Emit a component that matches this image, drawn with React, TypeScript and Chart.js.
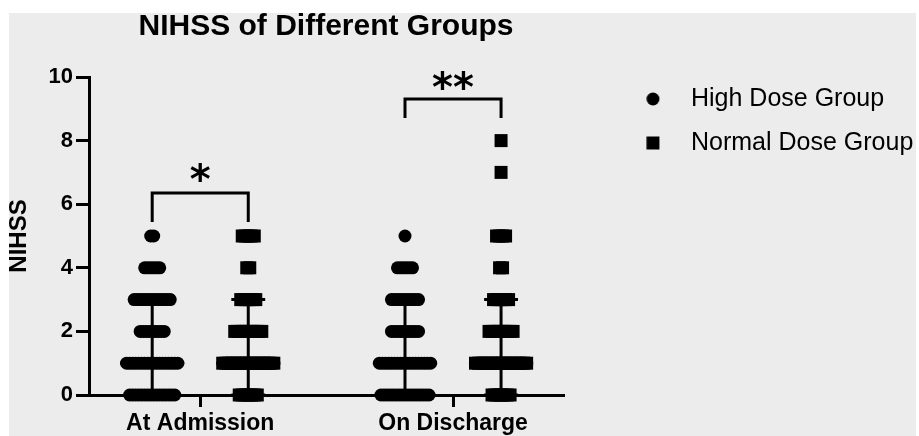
import React, { useEffect, useRef } from 'react';
import { Chart, registerables } from 'chart.js';

Chart.register(...registerables);

// ---------- data ----------
const categories = ['At Admission', 'On Discharge'];
const seriesNames = ['High Dose Group', 'Normal Dose Group'];
const scoreLevels = [0, 1, 2, 3, 4, 5, 6, 7, 8];
// number of patients at each NIHSS score (index = score level)
const highDoseAdmission = [16, 18, 9, 13, 6, 2, 0, 0, 0];
const highDoseDischarge = [17, 18, 10, 10, 6, 1, 0, 0, 0];
const normalDoseAdmission = [7, 18, 10, 6, 2, 5, 0, 0, 0];
const normalDoseDischarge = [7, 18, 9, 6, 2, 4, 0, 1, 1];
// median with interquartile range, per category
const highQ1 = [0, 0];
const highMedian = [1, 1];
const highQ3 = [3, 3];
const normalQ1 = [0, 0];
const normalMedian = [1, 1];
const normalQ3 = [3, 3];
// y axis
const yMin = 0;
const yMax = 10;
const yStep = 2;
// significance annotations, per category
const sigLabels = ['*', '**'];
const bracketTop = [6.35, 9.31];
const bracketFoot = [5.44, 8.71];
const sigLabelY = [7.0, 9.9];

// ---------- layout constants ----------
const FONT = "'Liberation Sans', Arial, Helvetica, sans-serif";
const GROUP_OFFSET = 0.19;
const POINT_STEP = 0.0119;
const CAP_HALF = 0.067;
const MEDIAN_HALF = 0.127;
const X_MIN = 0.56;
const X_MAX = 2.435;

Chart.defaults.font.family = FONT;
Chart.defaults.color = '#000';

function groupCenter(catIndex: number, groupIndex: number) {
  return catIndex + 1 + (groupIndex === 0 ? -GROUP_OFFSET : GROUP_OFFSET);
}

function rowPoints(counts: number[], catIndex: number, groupIndex: number) {
  const cx = groupCenter(catIndex, groupIndex);
  const pts: { x: number; y: number }[] = [];
  counts.forEach((n, level) => {
    for (let i = 0; i < n; i++) {
      pts.push({ x: cx + (i - (n - 1) / 2) * POINT_STEP, y: scoreLevels[level] });
    }
  });
  return pts;
}

function iqrSegments(cx: number, q1: number, med: number, q3: number) {
  return [
    { x: cx, y: q1 }, { x: cx, y: q3 }, { x: cx, y: null },
    { x: cx - CAP_HALF, y: q3 }, { x: cx + CAP_HALF, y: q3 }, { x: cx, y: null },
    { x: cx - CAP_HALF, y: q1 }, { x: cx + CAP_HALF, y: q1 }, { x: cx, y: null },
    { x: cx - MEDIAN_HALF, y: med }, { x: cx + MEDIAN_HALF, y: med },
  ];
}

function bracket(catIndex: number) {
  const l = groupCenter(catIndex, 0);
  const r = groupCenter(catIndex, 1);
  return [
    { x: l, y: bracketFoot[catIndex] },
    { x: l, y: bracketTop[catIndex] },
    { x: r, y: bracketTop[catIndex] },
    { x: r, y: bracketFoot[catIndex] },
  ];
}

function legendMarker(kind: 'circle' | 'rect') {
  const c = document.createElement('canvas');
  c.width = 60;
  c.height = 20;
  const g = c.getContext('2d')!;
  g.fillStyle = '#000';
  const mx = 30 + 22.75;
  const my = 10;
  if (kind === 'circle') {
    g.beginPath();
    g.arc(mx, my, 6.5, 0, Math.PI * 2);
    g.fill();
  } else {
    g.fillRect(mx - 6.5, my - 6.5, 13, 13);
  }
  return c;
}

const backgroundPlugin = {
  id: 'bg',
  beforeDraw(chart: any) {
    const ctx = chart.ctx;
    ctx.save();
    ctx.fillStyle = '#ffffff';
    ctx.fillRect(0, 0, chart.width, chart.height);
    ctx.fillStyle = '#ececec';
    ctx.fillRect(9, 13, 907, chart.height - 13);
    ctx.restore();
  },
};

const sigPlugin = {
  id: 'sig',
  afterDatasetsDraw(chart: any) {
    const ctx = chart.ctx;
    const xs = chart.scales.x;
    const ys = chart.scales.y;
    ctx.save();
    ctx.fillStyle = '#000';
    ctx.font = "bold 40px 'DejaVu Sans', sans-serif";
    ctx.textAlign = 'left';
    ctx.textBaseline = 'alphabetic';
    sigLabels.forEach((label, i) => {
      const cx = xs.getPixelForValue((groupCenter(i, 0) + groupCenter(i, 1)) / 2);
      const cy = ys.getPixelForValue(sigLabelY[i]);
      const m = ctx.measureText(label);
      const x = cx - (m.actualBoundingBoxRight - m.actualBoundingBoxLeft) / 2;
      const y = cy - (m.actualBoundingBoxDescent - m.actualBoundingBoxAscent) / 2;
      ctx.fillText(label, x, y);
    });
    ctx.restore();
  },
};

export default function App() {
  const ref = useRef<HTMLCanvasElement>(null);

  useEffect(() => {
    const canvas = ref.current;
    if (!canvas) return;
    const markers = [legendMarker('circle'), legendMarker('rect')];

    const highPoints = [...rowPoints(highDoseAdmission, 0, 0), ...rowPoints(highDoseDischarge, 1, 0)];
    const normalPoints = [...rowPoints(normalDoseAdmission, 0, 1), ...rowPoints(normalDoseDischarge, 1, 1)];

    const lineStyle = {
      type: 'line' as const,
      borderColor: '#000',
      borderWidth: 3,
      pointRadius: 0,
      pointHoverRadius: 0,
      fill: false,
      tension: 0,
      spanGaps: false,
      clip: false as any,
      borderJoinStyle: 'miter' as const,
      order: 2,
    };

    const datasets: any[] = [
      {
        label: seriesNames[0],
        data: highPoints,
        pointStyle: 'circle',
        pointRadius: 6.5,
        pointHoverRadius: 6.5,
        backgroundColor: '#000',
        borderColor: '#000',
        borderWidth: 0,
        clip: false,
        order: 0,
      },
      {
        label: seriesNames[1],
        data: normalPoints,
        pointStyle: 'rect',
        pointRadius: 9.19,
        pointHoverRadius: 9.19,
        backgroundColor: '#000',
        borderColor: '#000',
        borderWidth: 0,
        clip: false,
        order: 0,
      },
    ];
    categories.forEach((_, c) => {
      datasets.push({ ...lineStyle, label: 'iqr-h' + c, data: iqrSegments(groupCenter(c, 0), highQ1[c], highMedian[c], highQ3[c]) });
      datasets.push({ ...lineStyle, label: 'iqr-n' + c, data: iqrSegments(groupCenter(c, 1), normalQ1[c], normalMedian[c], normalQ3[c]) });
      datasets.push({ ...lineStyle, label: 'bracket' + c, data: bracket(c) });
    });

    const chart = new Chart(canvas, {
      type: 'scatter',
      data: { datasets },
      plugins: [backgroundPlugin, sigPlugin],
      options: {
        responsive: false,
        animation: false,
        devicePixelRatio: 1,
        layout: { padding: 0 },
        events: [],
        plugins: {
          tooltip: { enabled: false },
          title: {
            display: true,
            text: 'NIHSS of Different Groups',
            fullSize: false,
            color: '#000',
            font: { size: 30, weight: 'bold', family: FONT },
            padding: { top: 9, bottom: 32 },
          },
          legend: {
            display: true,
            position: 'right',
            align: 'start',
            maxWidth: 356,
            title: { display: true, text: ' ', font: { size: 10 }, padding: { top: 55.5, bottom: 0 } },
            labels: {
              usePointStyle: true,
              pointStyleWidth: 96.5,
              padding: 19,
              color: '#000',
              font: { size: 25, family: FONT },
              generateLabels: () =>
                seriesNames.map((t, i) => ({
                  text: t,
                  fillStyle: '#000',
                  strokeStyle: '#000',
                  lineWidth: 0,
                  pointStyle: markers[i],
                  hidden: false,
                  datasetIndex: i,
                })),
            },
          },
        },
        scales: {
          x: {
            type: 'linear',
            min: X_MIN,
            max: X_MAX,
            afterBuildTicks: (s: any) => {
              s.ticks = categories.map((_, i) => ({ value: i + 1 }));
            },
            afterFit: (s: any) => {
              s.height = 41;
            },
            ticks: {
              autoSkip: false,
              maxRotation: 0,
              padding: 3,
              color: '#000',
              font: { size: 23, weight: 'bold', family: FONT },
              callback: (v: any) => categories[Math.round(Number(v)) - 1],
            },
            grid: { display: true, drawOnChartArea: false, drawTicks: true, tickLength: 12, color: '#000', lineWidth: 3 },
            border: { display: true, color: '#000', width: 3 },
          },
          y: {
            type: 'linear',
            min: yMin,
            max: yMax,
            afterFit: (s: any) => {
              s.width = 89;
            },
            ticks: {
              stepSize: yStep,
              padding: 3,
              color: '#000',
              font: { size: 22, weight: 'bold', family: FONT },
            },
            grid: { display: true, drawOnChartArea: false, drawTicks: true, tickLength: 13, color: '#000', lineWidth: 3 },
            border: { display: true, color: '#000', width: 3 },
            title: {
              display: true,
              text: 'NIHSS',
              color: '#000',
              font: { size: 24, weight: 'bold', family: FONT },
              padding: { top: 5, bottom: 0 },
            },
          },
        },
      } as any,
    });
    return () => chart.destroy();
  }, []);

  return (
    <canvas
      ref={ref}
      width={919}
      height={436}
      style={{ position: 'fixed', left: 0, top: 0, width: 919, height: 436, display: 'block' }}
    />
  );
}
